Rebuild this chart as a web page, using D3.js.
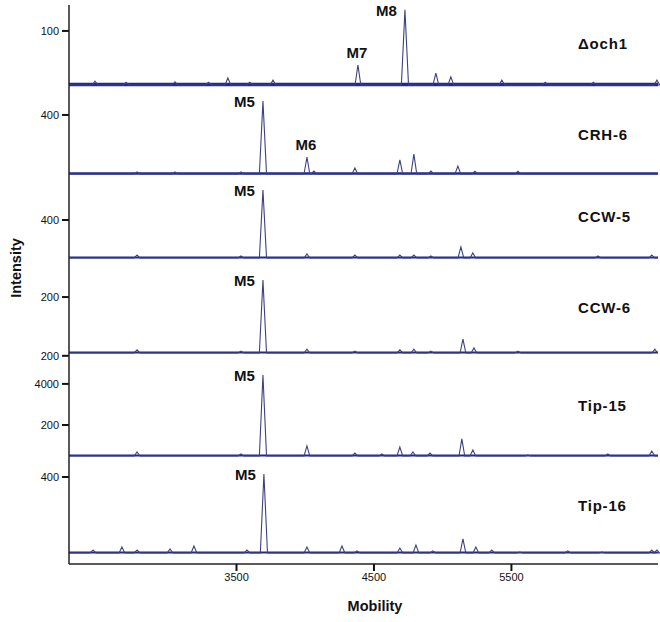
<!DOCTYPE html>
<html>
<head>
<meta charset="utf-8">
<script src="https://cdn.jsdelivr.net/npm/d3@7"></script>
<style>
  body { margin: 0; background: #fff; }
  svg { display: block; font-family: "Liberation Sans", Arial, sans-serif; }
</style>
</head>
<body>
<div id="chart"></div>
<script>
// sample names, top to bottom
const panelNames = ["Δoch1", "CRH-6", "CCW-5", "CCW-6", "Tip-15", "Tip-16"];
// intensity reached at the top of each panel window
const panelMax = [148, 542, 842, 286, 516, 421];
const yTickValues = [[100], [400], [400], [200, -10], [465, 200], [400]];
const yTickLabels = [["100"], ["400"], ["400"], ["200", "200"], ["4000", "200"], ["400"]];
const mobilityTicks = [3500, 4500, 5500];

// peaks: [mobility, intensity]
const peaksDoch1 = [[2474, 7], [2700, 5], [3056, 6], [3300, 5], [3441, 13], [3600, 5], [3769, 9], [4387, 37], [4729, 139], [4954, 22], [5063, 15], [5434, 9], [5750, 5], [6100, 5], [6562, 9]];
const peaksCRH6 = [[2780, 14], [3056, 14], [3536, 14], [3696, 495], [4016, 115], [4067, 20], [4365, 40], [4692, 95], [4794, 135], [4918, 20], [5114, 54], [5238, 18], [5551, 18]];
const peaksCCW5 = [[2780, 32], [3536, 21], [3696, 716], [4016, 42], [4365, 32], [4692, 32], [4794, 32], [4918, 21], [5136, 116], [5223, 53], [6133, 21], [6525, 32]];
const peaksCCW6 = [[2780, 11], [3536, 7], [3696, 261], [4016, 14], [4365, 7], [4692, 11], [4794, 14], [4918, 7], [5151, 50], [5231, 18], [5551, 7], [6547, 14]];
const peaksTip15 = [[2780, 26], [3536, 13], [3696, 522], [4016, 65], [4365, 19], [4561, 13], [4692, 58], [4787, 26], [4911, 19], [5143, 110], [5223, 39], [5623, 6], [6205, 13], [6525, 32]];
const peaksTip16 = [[2460, 16], [2670, 32], [2780, 16], [3020, 21], [3194, 37], [3580, 16], [3703, 416], [4016, 32], [4271, 37], [4380, 11], [4692, 26], [4809, 42], [4932, 11], [5151, 74], [5245, 32], [5361, 16], [5565, 5], [5914, 11], [6162, 5], [6525, 16], [6562, 16]];
const allPeaks = [peaksDoch1, peaksCRH6, peaksCCW5, peaksCCW6, peaksTip15, peaksTip16];

// peak names: [mobility, label]
const peakNames = [
  [[4387, "M7"], [4729, "M8"]],
  [[3696, "M5"], [4016, "M6"]],
  [[3696, "M5"]],
  [[3696, "M5"]],
  [[3696, "M5"]],
  [[3703, "M5"]]
];

const width = 660, height = 622;
const left = 69, right = 658, axisY = 564;
// layout of the stacked panels
const panelBase = [85, 174, 258, 353, 456, 553];
const panelTop = [3, 96, 176, 262, 356, 459];
const panelH = 80;
const bandWidth = [3.5, 2.5, 2, 2, 2, 2];

const svg = d3.select("#chart").append("svg")
  .attr("width", width)
  .attr("height", height);

const x = d3.scaleLinear().domain([2285, 6570]).range([left, right]);

panelNames.forEach((name, i) => {
  const y = d3.scaleLinear().domain([0, panelMax[i]]).range([panelBase[i], panelBase[i] - panelH]);
  const g = svg.append("g");

  // trace: flat baseline with triangular peaks
  const pts = [[x.domain()[0], 0]];
  allPeaks[i].forEach(p => {
    const w = (panelBase[i] - y(p[1])) > 40 ? 26 : 21;
    pts.push([p[0] - w, 0], [p[0], p[1]], [p[0] + w, 0]);
  });
  pts.push([x.domain()[1], 0]);

  g.append("line")
    .attr("x1", left).attr("x2", right)
    .attr("y1", y(0) - 0.5).attr("y2", y(0) - 0.5)
    .attr("stroke", "#1f2a8c")
    .attr("stroke-width", bandWidth[i]);

  const line = d3.line().x(d => x(d[0])).y(d => y(d[1]));
  g.append("path")
    .attr("d", line(pts))
    .attr("fill", "none")
    .attr("stroke", "#3c4182")
    .attr("stroke-width", 1.1);

  // y ticks
  yTickValues[i].forEach((v, k) => {
    g.append("line")
      .attr("x1", left - 7).attr("x2", left)
      .attr("y1", y(v)).attr("y2", y(v))
      .attr("stroke", "#111").attr("stroke-width", 2);
    g.append("text")
      .attr("x", left - 10).attr("y", y(v))
      .attr("dy", "0.35em")
      .attr("text-anchor", "end")
      .style("font-size", "11px")
      .style("fill", "#111")
      .text(yTickLabels[i][k]);
  });

  // sample name
  g.append("text")
    .attr("x", 578)
    .attr("y", (panelTop[i] + panelBase[i]) / 2)
    .attr("dy", "0.35em")
    .style("font-size", "15px")
    .style("font-weight", "bold")
    .style("letter-spacing", "0.8px")
    .style("fill", "#111")
    .text(name);

  // peak names
  peakNames[i].forEach(([m, label]) => {
    const pk = allPeaks[i].find(p => p[0] === m);
    const top = y(pk[1]);
    const tall = panelBase[i] - top > 50;
    g.append("text")
      .attr("x", tall ? x(m) - 8 : x(m) - 1)
      .attr("y", tall ? top + 1 : top - 12)
      .attr("dy", "0.35em")
      .attr("text-anchor", tall ? "end" : "middle")
      .style("font-size", "15px")
      .style("font-weight", "bold")
      .style("fill", "#111")
      .text(label);
  });
});

// frame: left axis line and bottom mobility axis
svg.append("line")
  .attr("x1", left).attr("x2", left)
  .attr("y1", 5).attr("y2", axisY)
  .attr("stroke", "#222").attr("stroke-width", 1.5);

const xAxis = d3.axisBottom(x)
  .tickValues(mobilityTicks)
  .tickSize(7)
  .tickFormat(d3.format("d"));

const ax = svg.append("g")
  .attr("transform", `translate(0,${axisY})`)
  .call(xAxis);
ax.select(".domain").attr("d", `M${left},0H${right}`).attr("stroke", "#222").attr("stroke-width", 1.5);
ax.selectAll(".tick line").attr("stroke", "#111").attr("stroke-width", 2);
ax.selectAll(".tick text")
  .attr("y", 9)
  .style("font-size", "11px")
  .style("font-family", "Liberation Sans, Arial, sans-serif")
  .style("fill", "#111");

svg.append("text")
  .attr("x", 375).attr("y", 606)
  .attr("dy", "0.35em")
  .attr("text-anchor", "middle")
  .style("font-size", "14.5px")
  .style("font-weight", "bold")
  .style("fill", "#111")
  .text("Mobility");

svg.append("text")
  .attr("transform", "translate(16,268) rotate(-90)")
  .attr("dy", "0.35em")
  .attr("text-anchor", "middle")
  .style("font-size", "14.5px")
  .style("font-weight", "bold")
  .style("fill", "#111")
  .text("Intensity");
</script>
</body>
</html>
